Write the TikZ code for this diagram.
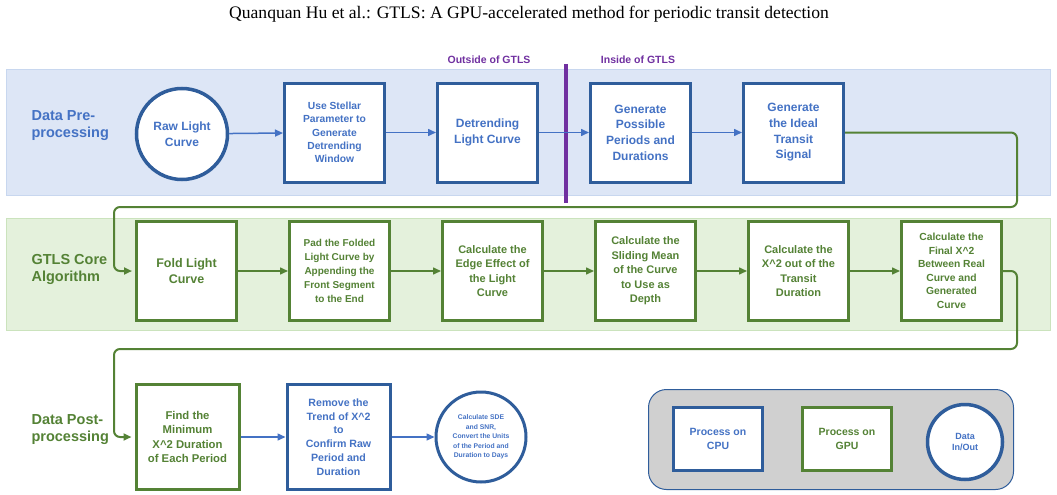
\documentclass[tikz,border=0pt]{standalone}
\usepackage{fontspec}
\setmainfont{Liberation Serif}
\setsansfont{Liberation Sans}
\usetikzlibrary{arrows.meta,positioning}
\definecolor{cpuline}{HTML}{2F5D9B}
\definecolor{cputext}{HTML}{4472C4}
\definecolor{gpuline}{HTML}{548235}
\definecolor{preband}{HTML}{DDE6F6}
\definecolor{prebandline}{HTML}{C8D7EF}
\definecolor{coreband}{HTML}{E4F1DC}
\definecolor{corebandline}{HTML}{CBE3BD}
\definecolor{splitpurple}{HTML}{7030A0}
\definecolor{legendgray}{HTML}{D0D0D0}
\tikzset{
  txt/.style 2 args={font=\sffamily\bfseries\fontsize{#1}{#2}\selectfont},
  cpubox/.style={draw=cpuline,line width=3pt,fill=white,minimum width=100pt,minimum height=99pt,inner sep=1pt,align=center,text=cputext},
  gpubox/.style={cpubox,draw=gpuline,text=gpuline},
  iocircle/.style={circle,draw=cpuline,line width=3.5pt,fill=white,inner sep=0pt,align=center,text=cputext},
  rowlabel/.style={txt={14.5}{17},align=left,anchor=west},
  headlabel/.style={txt={10.5}{12},text=splitpurple},
  cpuarrow/.style={-{Triangle[length=8pt,width=7pt]},draw=cputext,line width=1.5pt},
  gpuarrow/.style={cpuarrow,draw=gpuline},
  looparrow/.style={gpuarrow,line width=2pt,rounded corners=6pt},
}

\begin{document}
\begin{tikzpicture}[x=1pt,y=-1pt,node distance=50pt]
  \useasboundingbox (0,0) rectangle (1057,495);
  \node[font=\fontsize{17.6}{20}\selectfont] (title) at (529,14) {Quanquan Hu et al.: GTLS: A GPU-accelerated method for periodic transit detection};

  % bands
  \fill[preband,draw=prebandline,line width=1pt] (6,70) rectangle (1050,195);
  \fill[coreband,draw=corebandline,line width=1pt] (6,218) rectangle (1050,330);

  \node[headlabel] (outside) at (489,60) {Outside of GTLS};
  \node[headlabel] (inside) at (638,60) {Inside of GTLS};
  \draw[splitpurple,line width=4pt] (566,64) -- (566,203);

  % row 1: pre-processing
  \node[rowlabel,text=cputext] (prelabel) at (28,126) {Data Pre-\\processing};
  \node[iocircle,minimum size=91pt,txt={12}{15.5}] (raw) at (182,134) {Raw Light\\Curve};
  \node[cpubox,txt={10.3}{13.3}] (window) at (334.5,132.5) {Use Stellar\\Parameter to\\Generate\\Detrending\\Window};
  \node[cpubox,right=of window,txt={12}{15.8}] (detrend) {Detrending\\Light Curve};
  \node[cpubox,right=of detrend,txt={12}{15.7}] (periods) {Generate\\Possible\\Periods and\\Durations};
  \node[cpubox,right=of periods,txt={12}{15.7}] (signal) {Generate\\the Ideal\\Transit\\Signal};
  \draw[cpuarrow] (raw) -- (window);
  \draw[cpuarrow] (window) -- (detrend);
  \draw[cpuarrow] (detrend) -- (periods);
  \draw[cpuarrow] (periods) -- (signal);

  % row 2: core algorithm
  \node[rowlabel,text=gpuline] (corelabel) at (28,269) {GTLS Core\\Algorithm};
  \node[gpubox,txt={12.5}{16}] (fold) at (186.5,271) {Fold Light\\Curve};
  \node[gpubox,right=of fold,txt={10}{13.8}] (pad) {Pad the Folded\\Light Curve by\\Appending the\\Front Segment\\to the End};
  \node[gpubox,right=of pad,txt={11}{14.5}] (edge) {Calculate the\\Edge Effect of\\the Light\\Curve};
  \node[gpubox,right=of edge,txt={11}{14.5}] (sliding) {Calculate the\\Sliding Mean\\of the Curve\\to Use as\\Depth};
  \node[gpubox,right=of sliding,txt={11}{14.5}] (outchi) {Calculate the\\X\^{}2 out of the\\Transit\\Duration};
  \node[gpubox,right=of outchi,txt={10.3}{13.5}] (finalchi) {Calculate the\\Final X\^{}2\\Between Real\\Curve and\\Generated\\Curve};
  \draw[gpuarrow] (fold) -- (pad);
  \draw[gpuarrow] (pad) -- (edge);
  \draw[gpuarrow] (edge) -- (sliding);
  \draw[gpuarrow] (sliding) -- (outchi);
  \draw[gpuarrow] (outchi) -- (finalchi);

  % row 3: post-processing
  \node[rowlabel,text=gpuline] (postlabel) at (28,430) {Data Post-\\processing};
  \node[gpubox,minimum width=103pt,minimum height=105pt,txt={11.3}{14.5}] (findmin) at (187.5,437) {Find the\\Minimum\\X\^{}2 Duration\\of Each Period};
  \node[cpubox,minimum width=103pt,minimum height=105pt,right=45pt of findmin,txt={10.6}{13.7}] (detrendchi) {Remove the\\Trend of X\^{}2\\to\\Confirm Raw\\Period and\\Duration};
  \node[iocircle,line width=3pt,minimum size=90pt,right=43pt of detrendchi,txt={6.8}{9.6}] (sde) {Calculate SDE\\and SNR,\\Convert the Units\\of the Period and\\Duration to Days};
  \draw[cpuarrow] (findmin) -- (detrendchi);
  \draw[cpuarrow] (detrendchi) -- (sde);

  % loops between rows
  \coordinate (turnA) at (1017,207);
  \coordinate (turnB) at (114,271);
  \coordinate (turnC) at (1017,349);
  \coordinate (turnD) at (114,437);
  \draw[looparrow,shorten >=3pt] (signal.east) -| (turnA) -| (turnB) -- (fold.west);
  \draw[looparrow,shorten >=3pt] (finalchi.east) -| (turnC) -| (turnD) -- (findmin.west);

  % legend
  \node[draw=cpuline,line width=1pt,fill=legendgray,rounded corners=18pt,minimum width=365pt,minimum height=100pt] (legend) at (831,439.5) {};
  \node[cpubox,minimum width=89pt,minimum height=63pt,txt={10.5}{14}] (cpukey) at (718,439) {Process on\\CPU};
  \node[gpubox,minimum width=89pt,minimum height=63pt,txt={10.5}{14}] (gpukey) at (847,439) {Process on\\GPU};
  \node[iocircle,minimum size=75pt,txt={9}{11.5}] (iokey) at (965,442) {Data\\In/Out};
\end{tikzpicture}
\end{document}
